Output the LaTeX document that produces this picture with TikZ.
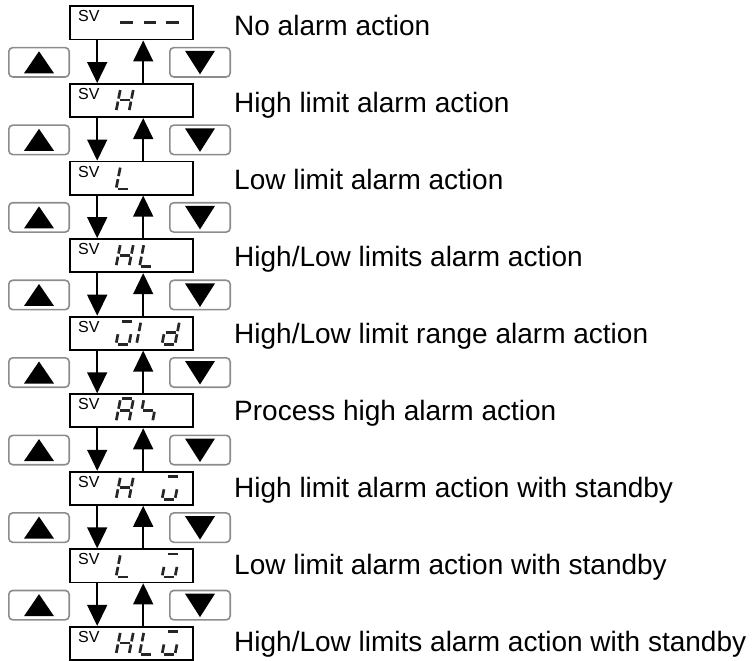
\documentclass[tikz,border=0pt]{standalone}
\usepackage{fontspec}
\setmainfont{Liberation Sans}
\usetikzlibrary{arrows.meta}
\tikzset{
  dispbox/.style={draw, line width=1.8pt, minimum width=123.2pt, minimum height=33.2pt, inner sep=0pt},
  btnbox/.style={draw=black!45, line width=1.6pt, rounded corners=4pt, minimum width=60.4pt, minimum height=29.4pt, inner sep=0pt},
  arr/.style={line width=1.5pt, -{Triangle[width=20pt,length=21pt]}},
  seg/.style={line width=2.7pt, draw=black!85},
  svlab/.style={anchor=base west, inner sep=0pt, font=\fontsize{16}{19}\selectfont},
  desc/.style={anchor=base west, inner sep=0pt, font=\fontsize{28}{33}\selectfont},
}
\def\sega{\draw[seg] (1.5,-23) -- (11.5,-23);}
\def\segb{\draw[seg] (13,-21.5) -- (13,-13);}
\def\segc{\draw[seg] (13,-10) -- (13,-1.5);}
\def\segd{\draw[seg] (1.5,0) -- (11.5,0);}
\def\sege{\draw[seg] (0,-10) -- (0,-1.5);}
\def\segf{\draw[seg] (0,-21.5) -- (0,-13);}
\def\segg{\draw[seg] (1.5,-11.5) -- (11.5,-11.5);}
\def\segG{\draw[seg, line width=3.8pt] (2,-11.5) -- (14.5,-11.5);}
\newcommand\sevsegchar[3]{%
  \begin{scope}[shift={(#1,#2)}, xslant=0.196]
    \foreach \s in {#3} {\csname seg\s\endcsname}
  \end{scope}}
\begin{document}
\begin{tikzpicture}[x=1pt,y=-1pt]
\useasboundingbox (0,0) rectangle (752,661);
% display boxes
\foreach \i in {1,...,9} {
  \pgfmathsetmacro\tp{5.5+77.55*(\i-1)}
  \node[dispbox] (box\i) at (131.2,\tp+17.5) {};
  \node[svlab] (sv\i) at (78,\tp+16.5) {SV};
}
% buttons and arrows
\foreach \i in {1,...,8} {
  \pgfmathtruncatemacro\j{\i+1}
  \pgfmathsetmacro\tp{5.5+77.55*(\i-1)}
  \node[btnbox] (up\i) at (39,\tp+56.8) {};
  \node[btnbox] (dn\i) at (200,\tp+56.8) {};
  \fill (up\i.center) ++(-15,11) -- ++(30,0) -- ++(-15,-22) -- cycle;
  \fill (dn\i.center) ++(-15,-11.5) -- ++(30,0) -- ++(-15,23.5) -- cycle;
  \draw[arr] ([xshift=-34pt]box\i.south) -- ([xshift=-34pt]box\j.north);
  \draw[arr] ([xshift=12pt]box\j.north) -- ([xshift=12pt]box\i.south);
}
% seven-segment readouts
\sevsegchar{116}{34}{G}\sevsegchar{139.5}{34}{G}\sevsegchar{162}{34}{G}
\sevsegchar{116}{111.55}{b,c,e,f,g}
\sevsegchar{116}{189.1}{d,e,f}
\sevsegchar{116}{266.65}{b,c,e,f,g}\sevsegchar{139.5}{266.65}{d,e,f}
\sevsegchar{116}{344.2}{a,c,d,e}\sevsegchar{136.5}{344.2}{e,f}\sevsegchar{162}{344.2}{b,c,d,e,g}
\sevsegchar{116}{421.75}{a,b,c,e,f,g}\sevsegchar{139.5}{421.75}{f,g,c}
\sevsegchar{116}{499.3}{b,c,e,f,g}\sevsegchar{162}{499.3}{a,c,d,e}
\sevsegchar{116}{576.85}{d,e,f}\sevsegchar{162}{576.85}{a,c,d,e}
\sevsegchar{116}{654.4}{b,c,e,f,g}\sevsegchar{139.5}{654.4}{d,e,f}\sevsegchar{162}{654.4}{a,c,d,e}
% descriptions
\node[desc] (lab1) at (234,36) {No alarm action};
\node[desc] (lab2) at (234,112.96) {High limit alarm action};
\node[desc] (lab3) at (234,189.92) {Low limit alarm action};
\node[desc] (lab4) at (234,266.88) {High/Low limits alarm action};
\node[desc] (lab5) at (234,343.84) {High/Low limit range alarm action};
\node[desc] (lab6) at (234,420.8) {Process high alarm action};
\node[desc] (lab7) at (234,497.76) {High limit alarm action with standby};
\node[desc] (lab8) at (234,574.72) {Low limit alarm action with standby};
\node[desc] (lab9) at (234,651.68) {High/Low limits alarm action with standby};
\end{tikzpicture}
\end{document}
